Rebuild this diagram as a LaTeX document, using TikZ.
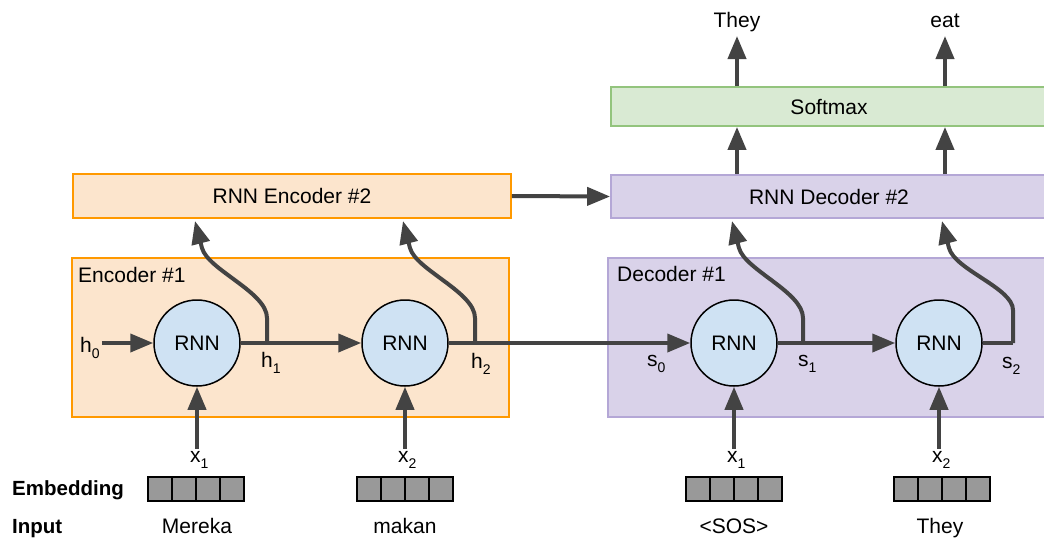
\documentclass[tikz,border=0pt]{standalone}
\usepackage{fontspec}
\setmainfont{Liberation Sans}
\usetikzlibrary{arrows.meta,calc}
\definecolor{encfill}{HTML}{FCE5CD}
\definecolor{encdraw}{HTML}{FF9900}
\definecolor{decfill}{HTML}{D9D2E9}
\definecolor{decdraw}{HTML}{B4A7D6}
\definecolor{smfill}{HTML}{D9EAD3}
\definecolor{smdraw}{HTML}{93C47D}
\definecolor{rnnfill}{HTML}{CFE2F3}
\definecolor{arrowc}{HTML}{434343}
\definecolor{embc}{HTML}{999999}
\newcommand\subl[2]{#1\raisebox{-6pt}{\fontsize{14}{14}\selectfont #2}}
\begin{document}
\begin{tikzpicture}[x=1pt,y=-1pt,
  font=\fontsize{21}{25}\selectfont,
  enc/.style={draw=encdraw, fill=encfill, line width=1.8pt, inner sep=0pt},
  dec/.style={draw=decdraw, fill=decfill, line width=1.8pt, inner sep=0pt},
  soft/.style={draw=smdraw, fill=smfill, line width=1.8pt, inner sep=0pt},
  rnn/.style={circle, draw=black, fill=rnnfill, line width=1.5pt, minimum size=86pt, inner sep=0pt},
  arr/.style={draw=arrowc, line width=4pt, -{Triangle[length=23pt,width=18pt]}},
  plain/.style={draw=arrowc, line width=4pt},
  lbl/.style={inner sep=2pt, anchor=base west},
  word/.style={inner sep=0pt, text depth=8pt, anchor=south},
  embbox/.style={draw=black, fill=embc, line width=1.5pt, minimum width=96pt, minimum height=24pt, inner sep=0pt,
    path picture={\foreach \i in {24,48,72}{\draw[line width=1.5pt] ([xshift=\i pt]path picture bounding box.north west) -- ([xshift=\i pt]path picture bounding box.south west);}}}
]
\useasboundingbox (0,0) rectangle (1044,539);

% boxes
\node[enc, minimum width=438pt, minimum height=44pt] (enc2) at (292,196) {RNN Encoder \#2};
\node[dec, minimum width=436pt, minimum height=43pt] (dec2) at (829,196.5) {RNN Decoder \#2};
\node[soft, minimum width=436pt, minimum height=39pt] (soft) at (829,106.5) {Softmax};
\node[enc, minimum width=437pt, minimum height=159pt] (enc1) at (290.5,337.5) {};
\node[dec, minimum width=439pt, minimum height=159pt] (dec1) at (827.5,337.5) {};
\node[lbl, inner sep=0pt] (enc1t) at (78,282) {Encoder \#1};
\node[lbl, inner sep=0pt] (dec1t) at (617,281) {Decoder \#1};

% outputs
\node[word] (they) at (737,36) {They};
\node[word] (eat) at (945,36) {eat};
\draw[arr] (soft.north -| they) -- (they.south);
\draw[arr] (soft.north -| eat) -- (eat.south);
\draw[arr] (dec2.north -| they) -- (soft.south -| they);
\draw[arr] (dec2.north -| eat) -- (soft.south -| eat);

% RNN cells
\node[rnn] (c1) at (197,343) {RNN};
\node[rnn] (c2) at (405,343) {RNN};
\node[rnn] (d1) at (734,343) {RNN};
\node[rnn] (d2) at (939,343) {RNN};

% state labels
\node[lbl] (h0) at (78,352) {\subl{h}{0}};
\node[lbl] (h1) at (259,367) {\subl{h}{1}};
\node[lbl] (h2) at (469,368) {\subl{h}{2}};
\node[lbl] (s0) at (645,366) {\subl{s}{0}};
\node[lbl] (s1) at (796,366) {\subl{s}{1}};
\node[lbl] (s2) at (1000,368) {\subl{s}{2}};

% junctions, arrow bases and targets
\coordinate (j1) at (267,343);
\coordinate (j2) at (475,343);
\coordinate (j3) at (803,343);
\coordinate (j4) at (1013,343);
\coordinate (t1) at (195,221);
\coordinate (t2) at (403,221);
\coordinate (t3) at (732,221);
\coordinate (t4) at (942,221);
\coordinate (b1) at (202,248);
\coordinate (b2) at (410,248);
\coordinate (b3) at (739,248);
\coordinate (b4) at (949,248);

% recurrent connections
\draw[arr] (h0.east |- c1) -- (c1.west);
\draw[arr] (c1.east) -- (c2.west);
\draw[arr] (c2.east) -- (d1.west);
\draw[arr] (d1.east) -- (d2.west);
\draw[plain] (d2.east) -- (j4);

% upward curves
\draw[arr] (j1) -- ++(0,-25) .. controls +(0,-26) and +(6,22) .. (b1) -- (t1);
\draw[arr] (j2) -- ++(0,-25) .. controls +(0,-26) and +(6,22) .. (b2) -- (t2);
\draw[arr] (j3) -- ++(0,-25) .. controls +(0,-26) and +(6,22) .. (b3) -- (t3);
\draw[arr] (j4) -- ++(0,-33) .. controls +(0,-22) and +(6,22) .. (b4) -- (t4);

% encoder to decoder
\draw[arr] (enc2.east) -- (dec2.west);

% inputs
\node[lbl] (x1) at (188,462) {\subl{x}{1}};
\node[lbl] (x2) at (396,462) {\subl{x}{2}};
\node[lbl] (x3) at (725,462) {\subl{x}{1}};
\node[lbl] (x4) at (930,462) {\subl{x}{2}};
\draw[arr] (c1 |- x1.north) -- (c1.south);
\draw[arr] (c2 |- x2.north) -- (c2.south);
\draw[arr] (d1 |- x3.north) -- (d1.south);
\draw[arr] (d2 |- x4.north) -- (d2.south);

\node[embbox] (e1) at (196,489) {};
\node[embbox] (e2) at (405,489) {};
\node[embbox] (e3) at (734,489) {};
\node[embbox] (e4) at (942,489) {};

\node[anchor=base west, inner sep=0pt, font=\fontsize{20.5}{24}\selectfont\bfseries] (embl) at (12,495) {Embedding};
\node[anchor=base west, inner sep=0pt, font=\fontsize{20.5}{24}\selectfont\bfseries] (inl) at (12,533) {Input};
\node[anchor=base, inner sep=0pt] (w1) at (197,533) {Mereka};
\node[anchor=base, inner sep=0pt] (w2) at (405,533) {makan};
\node[anchor=base, inner sep=0pt] (w3) at (734,533) {<SOS>};
\node[anchor=base, inner sep=0pt] (w4) at (940,533) {They};
\end{tikzpicture}
\end{document}
